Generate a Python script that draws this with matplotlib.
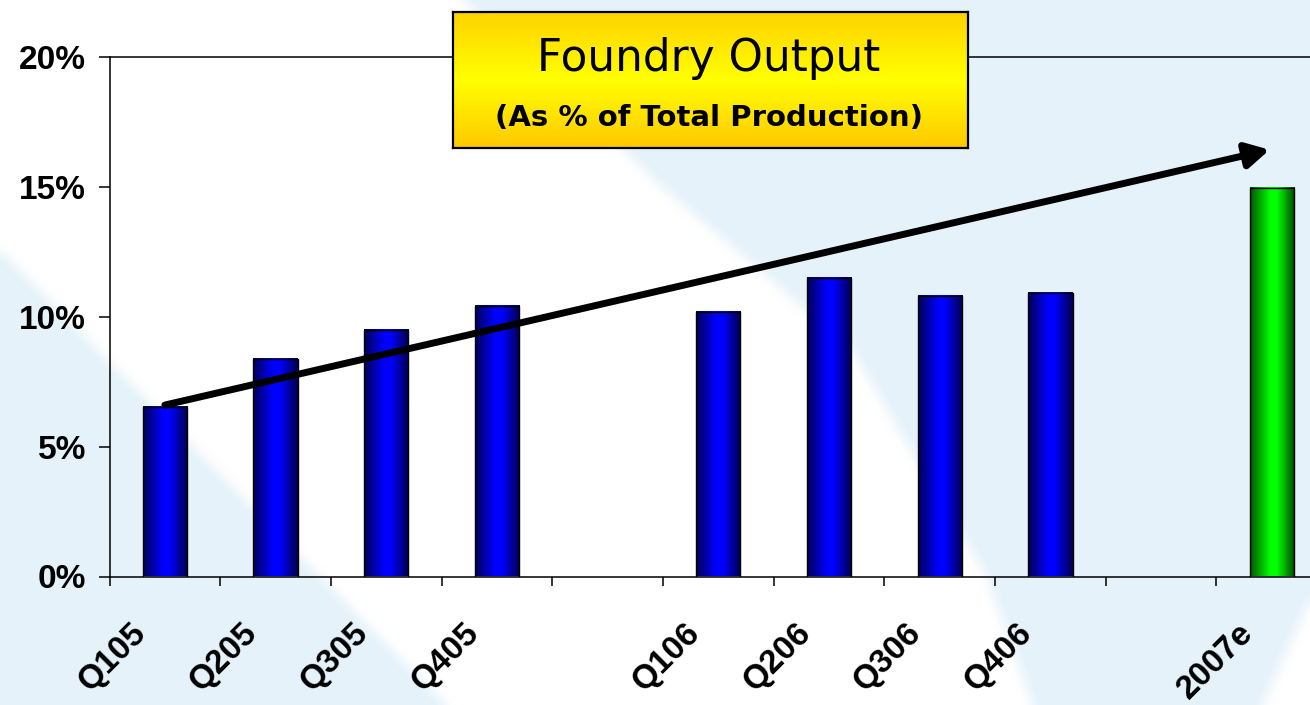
import numpy as np
import matplotlib
matplotlib.use("Agg")
import matplotlib.pyplot as plt
from matplotlib.path import Path
from matplotlib.colors import LinearSegmentedColormap
from matplotlib.transforms import ScaledTranslation

# ---------------- data ----------------
categories = ["Q105", "Q205", "Q305", "Q405", "", "Q106", "Q206", "Q306", "Q406", "", "2007e"]
values = [6.53, 8.39, 9.48, 10.40, np.nan, 10.18, 11.51, 10.79, 10.90, np.nan, 14.95]
bar_kind = ["actual", "actual", "actual", "actual", "", "actual", "actual", "actual", "actual", "", "estimate"]
y_ticks = [0, 5, 10, 15, 20]
y_tick_labels = ["0%", "5%", "10%", "15%", "20%"]
title_text = "Foundry Output"
subtitle_text = "(As % of Total Production)"
trend_start = (0.0, 6.6)
trend_end = (9.98, 16.43)

# ---------------- figure ----------------
W, H = 1310, 705
fig = plt.figure(figsize=(W / 100, H / 100), dpi=100)

# background: light blue with soft white diagonal band
yy, xx = np.mgrid[0:H, 0:W]
pts = np.column_stack([xx.ravel() + 0.5, yy.ravel() + 0.5])
white_polys = [
    [(0, 0), (463, 0), (560, 90), (660, 185), (760, 270), (852, 350), (911, 450),
     (987, 577), (1033, 705), (446, 705), (0, 250)],
    [(1310, 600), (1262, 705), (1310, 705)],
]
mask = np.zeros(H * W)
for poly in white_polys:
    mask = np.maximum(mask, Path(poly).contains_points(pts).astype(float))
mask = mask.reshape(H, W)


def box_blur(a, r):
    for axis in (0, 1):
        pad = [(0, 0), (0, 0)]
        pad[axis] = (r + 1, r)
        p = np.pad(a, pad, mode="edge")
        c = np.cumsum(p, axis=axis)
        n = a.shape[axis]
        if axis == 0:
            a = (c[2 * r + 1:2 * r + 1 + n] - c[0:n]) / (2 * r + 1)
        else:
            a = (c[:, 2 * r + 1:2 * r + 1 + n] - c[:, 0:n]) / (2 * r + 1)
    return a


mask = box_blur(mask, 8)
blue_bg = np.array([229, 242, 250]) / 255.0
img = blue_bg[None, None, :] * (1 - mask[..., None]) + mask[..., None]
bg = fig.add_axes([0, 0, 1, 1])
bg.imshow(img, extent=[0, W, H, 0], aspect="auto", interpolation="bilinear")
bg.axis("off")

# ---------------- main axes ----------------
left_px, zero_px, slot_px, top_px = 109.5, 576.5, 110.7, 57.0
n_slots = len(categories)
ax = fig.add_axes([left_px / W, (H - zero_px) / H, n_slots * slot_px / W, (zero_px - top_px) / H])
ax.set_facecolor("none")

x = np.arange(n_slots)
vals = np.array(values, dtype=float)
ok = ~np.isnan(vals)

blue_cmap = LinearSegmentedColormap.from_list(
    "cyl_blue", [(0, (0, 0, 0.33)), (0.45, (0, 0, 1)), (0.6, (0, 0, 1)), (1, (0, 0, 0.28))])
green_cmap = LinearSegmentedColormap.from_list(
    "cyl_green", [(0, (0, 0.33, 0)), (0.45, (0, 1, 0)), (0.6, (0, 1, 0)), (1, (0, 0.28, 0))])

bars = ax.bar(x[ok], vals[ok], width=0.4, facecolor="none", edgecolor="black",
              linewidth=1.0, zorder=3)
grad = np.linspace(0, 1, 256)[None, :]
kinds = [k for k, o in zip(bar_kind, ok) if o]
for patch, kind in zip(bars.patches, kinds):
    x0, y0 = patch.get_x(), patch.get_y()
    w, h = patch.get_width(), patch.get_height()
    cmap = green_cmap if kind == "estimate" else blue_cmap
    ax.imshow(grad, extent=[x0, x0 + w, y0, y0 + h], aspect="auto", cmap=cmap,
              vmin=0, vmax=1, zorder=2, interpolation="bilinear")

# trend arrow
ax.annotate("", xy=trend_end, xytext=trend_start,
            arrowprops=dict(arrowstyle="-|>,head_length=0.55,head_width=0.3",
                            lw=5, color="black", mutation_scale=25,
                            shrinkA=0, shrinkB=0),
            zorder=5, annotation_clip=False)

ax.set_xlim(-0.5, n_slots - 0.5)
ax.set_ylim(y_ticks[0], y_ticks[-1])

for s in ["left", "bottom", "top"]:
    ax.spines[s].set_linewidth(1.1)
    ax.spines[s].set_color("black")
ax.spines["right"].set_visible(False)

ax.set_yticks(y_ticks)
ax.set_yticklabels(y_tick_labels, fontsize=24, fontweight="bold", family="Liberation Sans")
ax.tick_params(axis="y", direction="out", length=8, width=1.1, pad=9)

ax.set_xticks(np.arange(-0.5, n_slots, 1.0))
ax.tick_params(axis="x", direction="out", length=6.5, width=1.1, labelbottom=False)

lab_trans = ax.get_xaxis_transform() + ScaledTranslation(-34 / 100, -41 / 100, fig.dpi_scale_trans)
for i, c in enumerate(categories):
    if c:
        ax.text(i, 0, c, transform=lab_trans, rotation=45, rotation_mode="anchor",
                ha="right", va="top", fontsize=24, fontweight="bold",
                family="Liberation Sans", clip_on=False)

# ---------------- title box ----------------
bx0, bx1, by0, by1 = 453, 968, 12, 148
tax = fig.add_axes([bx0 / W, (H - by1) / H, (bx1 - bx0) / W, (by1 - by0) / H])
ycmap = LinearSegmentedColormap.from_list(
    "ybox", [(0, "#FFD200"), (0.5, "#FFFF00"), (1, "#FFC800")])
tax.imshow(np.linspace(0, 1, 256)[:, None], extent=[0, 1, 0, 1], aspect="auto",
           cmap=ycmap, vmin=0, vmax=1, interpolation="bilinear", origin="upper")
tax.set_xlim(0, 1)
tax.set_ylim(0, 1)
tax.set_xticks([])
tax.set_yticks([])
for s in tax.spines.values():
    s.set_linewidth(1.6)
    s.set_color("black")
tax.text(0.497, 0.566, title_text, ha="center", va="baseline", fontsize=31.5,
         family="DejaVu Sans", color="black")
tax.text(0.497, 0.162, subtitle_text, ha="center", va="baseline", fontsize=21,
         family="DejaVu Sans", fontweight="bold", color="black")

fig.savefig("out.png", dpi=100)
